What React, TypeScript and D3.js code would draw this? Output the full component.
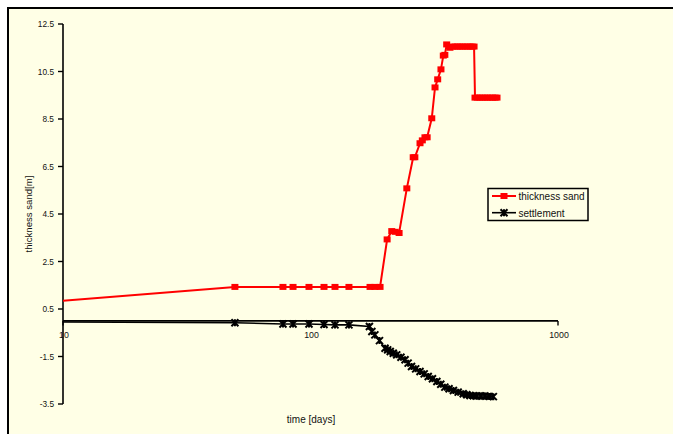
import React from "react";
import * as d3 from "d3";

const sandTime = [1, 49.5, 77.4, 85, 98.6, 113.4, 125.6, 143, 174, 182, 191, 204, 213, 220, 228, 245, 260, 264, 277, 283, 290, 296, 309, 318.5, 326.5, 336.6, 344, 349, 355, 366, 375, 384, 393, 402, 411, 421, 431, 441, 450, 458, 462, 472, 484, 495, 507, 519, 531, 544, 557, 567];
const sandThickness = [0, 1.43, 1.43, 1.43, 1.43, 1.43, 1.43, 1.43, 1.43, 1.43, 1.43, 3.43, 3.78, 3.75, 3.7, 5.58, 6.89, 6.89, 7.48, 7.6, 7.73, 7.73, 8.53, 9.83, 10.17, 10.59, 11.17, 11.2, 11.64, 11.5, 11.55, 11.55, 11.55, 11.55, 11.55, 11.55, 11.55, 11.55, 11.55, 11.55, 9.4, 9.4, 9.4, 9.4, 9.4, 9.4, 9.4, 9.4, 9.4, 9.4];

const settleTime = [1, 49.5, 77.4, 85, 98.6, 113.4, 125.6, 143, 173, 177, 182, 190, 200, 205, 210, 216, 223, 232, 241, 248, 256, 266, 277, 288, 299, 311, 324, 336, 349, 363, 378, 395, 414, 428, 441, 455, 469, 488, 507, 527, 548];
const settlement = [0, -0.08, -0.13, -0.13, -0.13, -0.15, -0.17, -0.17, -0.24, -0.45, -0.59, -0.83, -1.15, -1.22, -1.29, -1.36, -1.43, -1.53, -1.64, -1.78, -1.92, -2.02, -2.13, -2.23, -2.34, -2.44, -2.55, -2.67, -2.79, -2.86, -2.93, -3.0, -3.07, -3.11, -3.14, -3.15, -3.16, -3.16, -3.16, -3.18, -3.19];

const yTicks = [12.5, 10.5, 8.5, 6.5, 4.5, 2.5, 0.5, -1.5, -3.5];
const xTicks = [10, 100, 1000];
const seriesNames = ["thickness sand", "settlement"];

const BG = "#FFFFE6";
const FONT = "'Liberation Sans', Arial, sans-serif";

function Asterisk({ x, y, s = 3.5 }: { x: number; y: number; s?: number }) {
  return (
    <path
      d={`M${x - s},${y - s}L${x + s},${y + s}M${x - s},${y + s}L${x + s},${y - s}M${x},${y - s}L${x},${y + s}`}
      stroke="#000"
      strokeWidth={2}
      fill="none"
    />
  );
}

export default function App() {
  const x = d3.scaleLog().domain([10, 1000]).range([63, 558]);
  const y = d3.scaleLinear().domain([-3.5, 12.5]).range([404, 24]);
  const y0 = y(0);

  const sandPts = sandTime.map((t, i) => [x(t), y(sandThickness[i])] as [number, number]);
  const settlePts = settleTime.map((t, i) => [x(t), y(settlement[i])] as [number, number]);
  const line = d3.line();

  return (
    <svg
      width={673}
      height={434}
      style={{ position: "absolute", left: 0, top: 0, background: "#fff" }}
      fontFamily={FONT}
    >
      <defs>
        <clipPath id="plot">
          <rect x={63} y={20} width={500} height={390} />
        </clipPath>
      </defs>
      <rect x={8} y={8} width={700} height={460} fill={BG} stroke="#000" strokeWidth={2} />

      {/* Y axis */}
      <line x1={63} x2={63} y1={y(12.5)} y2={y(-3.5)} stroke="#000" strokeWidth={1.6} />
      {yTicks.map((v) => (
        <g key={v}>
          <line x1={58} x2={63} y1={y(v)} y2={y(v)} stroke="#000" strokeWidth={1.4} />
          <text x={54} y={y(v) + 3} fontSize={8.3} textAnchor="end" fill="#111">
            {String(v)}
          </text>
        </g>
      ))}

      {/* X axis */}
      <line x1={63} x2={558} y1={y0} y2={y0} stroke="#000" strokeWidth={1.8} />
      {xTicks.map((t) => (
        <g key={t}>
          <line x1={x(t)} x2={x(t)} y1={y0} y2={y0 + 4.5} stroke="#000" strokeWidth={1.4} />
          <text x={x(t) + 1} y={y0 + 17.5} fontSize={8.8} textAnchor="middle" fill="#111">
            {String(t)}
          </text>
        </g>
      ))}

      <text
        transform={`translate(32,214) rotate(-90)`}
        fontSize={9.6}
        textAnchor="middle"
        fill="#111"
      >
        thickness sand[m]
      </text>
      <text x={311} y={423} fontSize={10} textAnchor="middle" fill="#111">
        time [days]
      </text>

      <g clipPath="url(#plot)">
        <path d={line(settlePts) || ""} fill="none" stroke="#000" strokeWidth={1.6} />
        {settlePts.slice(1).map((p, i) => (
          <Asterisk key={i} x={p[0]} y={p[1]} />
        ))}
        <path d={line(sandPts) || ""} fill="none" stroke="#FF0000" strokeWidth={2} />
        {sandPts.slice(1).map((p, i) => (
          <rect key={i} x={p[0] - 3.5} y={p[1] - 3} width={7} height={6} fill="#FF0000" />
        ))}
      </g>

      {/* Legend */}
      <rect x={488} y={188.5} width={100} height={32} fill={BG} stroke="#000" strokeWidth={1.5} />
      <line x1={492} x2={516} y1={196} y2={196} stroke="#FF0000" strokeWidth={2} />
      <rect x={500.5} y={193} width={7} height={6} fill="#FF0000" />
      <text x={518.5} y={199.5} fontSize={10} fill="#111">{seriesNames[0]}</text>
      <line x1={492} x2={516} y1={212.7} y2={212.7} stroke="#000" strokeWidth={1.6} />
      <Asterisk x={504} y={212.7} />
      <text x={518.5} y={216.5} fontSize={10} fill="#111">{seriesNames[1]}</text>
    </svg>
  );
}
